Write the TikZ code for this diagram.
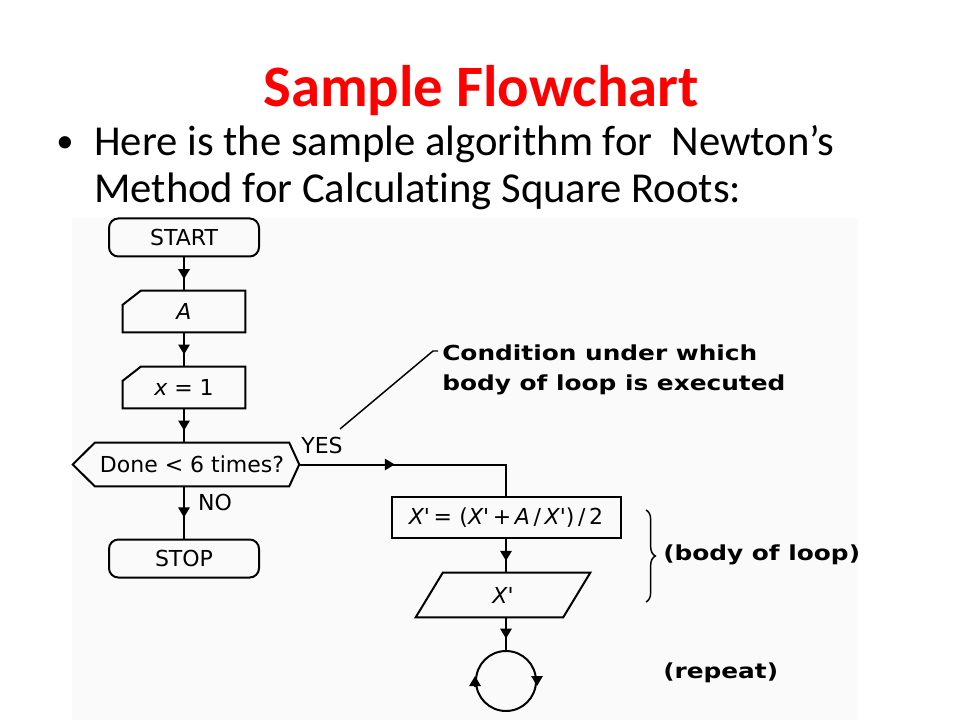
\documentclass[tikz,border=0pt]{standalone}
\usepackage{fontspec}
\setmainfont{Carlito}[Ligatures={NoCommon}]
\newfontfamily\pix{DejaVu Sans}
\newfontfamily\pixb[FakeStretch=1.2]{DejaVu Sans Bold}
\usetikzlibrary{arrows.meta,decorations.markings,decorations.pathreplacing}
\definecolor{titlered}{RGB}{255,0,0}
\newcommand\drawcard[1]{\draw[lw] ([yshift=-10.5pt]#1.north west) -- ([xshift=13.5pt]#1.north west) -- (#1.north east) -- (#1.south east) -- (#1.south west) -- cycle;}
\newcommand\drawpara[1]{\draw[lw] ([xshift=10.125pt]#1.north west) -- ([xshift=10.125pt]#1.north east) -- ([xshift=-10.125pt]#1.south east) -- ([xshift=-10.125pt]#1.south west) -- cycle;}
\begin{document}
\begin{tikzpicture}[x=0.75pt,y=-0.75pt,
  lw/.style={line width=1.5pt},
  thin line/.style={line width=1.1pt},
  pixfont/.style={font=\pix\fontsize{16.5}{19}\selectfont},
  boldfont/.style={font=\pixb\fontsize{15.5}{22.5}\selectfont},
  term/.style={draw, lw, rounded corners=7pt, minimum width=112.5pt, minimum height=28.5pt, inner sep=0pt, pixfont},
  card/.style={rectangle, minimum width=91.5pt, minimum height=30.75pt, inner sep=0pt, pixfont},
  procbox/.style={draw, lw, rectangle, minimum width=171.75pt, minimum height=30.75pt, inner sep=0pt, pixfont},
  paranode/.style={rectangle, minimum width=110.25pt, minimum height=33pt, inner sep=0pt, pixfont},
  hexnode/.style={rectangle, minimum width=145.5pt, minimum height=32.25pt, inner sep=0pt, pixfont},
  lbl/.style={inner sep=0pt, pixfont},
  note/.style={inner sep=0pt, boldfont, anchor=west, align=left},
  tipstyle/.style={-{Triangle[length=7.5pt,width=8.5pt]}},
  midarr/.style={postaction={decorate}, decoration={markings, mark=at position #1 with {\arrow[xshift=3.75pt]{Triangle[length=7.5pt,width=8.5pt]}}}},
  midarr/.default=0.5
]
\useasboundingbox (0,0) rectangle (960,720);
\fill[white] (0,0) rectangle (960,720);
\fill[black!2] (72,218) rectangle (858,720);

% slide text
\node[anchor=base, inner sep=0pt, text=titlered, font=\bfseries\fontsize{44}{53}\selectfont] (title) at (481,107) {Sample Flowchart};
\node[anchor=center, inner sep=0pt, font=\fontsize{26}{30}\selectfont] (bullet) at (65,145) {•};
\node[anchor=base west, align=left, inner sep=0pt, font=\fontsize{32}{35.25}\selectfont] (intro) at (94,203) {Here is the sample algorithm for~ Newton’s\\Method for Calculating Square Roots:};

% flowchart nodes
\node[term] (start) at (184,237.5) {START};
\node[card] (a) at (184,311.5) {\itshape A};
\drawcard{a}
\node[card] (x1) at (184,387.5) {{\itshape x} = 1};
\drawcard{x1}
\node[hexnode] (hex) at (192,464.5) {Done < 6 times?};
\coordinate (hexR) at ([xshift=7.5pt]hex.east);
\coordinate (hexL) at ([xshift=-16.5pt]hex.west);
\draw[lw] (hex.north west) -- (hex.north east) -- (hexR) -- (hex.south east) -- (hex.south west) -- (hexL) -- cycle;
\node[term] (stop) at (184,558.5) {STOP};

\node[procbox] (f) at (506,517.5) {{\itshape X}'\,=\,\,({\itshape X}'\,+\,{\itshape A}\,/\,{\itshape X}')\,/\,2};
\node[paranode] (para) at (503,595) {\itshape X'};
\drawpara{para}
\node[circle, draw, lw, minimum size=45pt, inner sep=0pt] (rep) at (506,681) {};

% connectors
\draw[lw, midarr] (start) -- (a);
\draw[lw, midarr] (a) -- (x1);
\draw[lw, midarr] (x1.south) -- (x1.south |- hex.north);
\draw[lw, midarr] (x1.south |- hex.south) -- (stop.north);
\draw[lw, midarr=0.38] (hexR) -| (f.north);
\draw[lw, midarr] (f.south) -- (f.south |- para.north);
\draw[lw, midarr] (f.south |- para.south) -- (rep.north);
\draw[lw, tipstyle] ([yshift=3.75pt]rep.east) -- ([yshift=-3.75pt]rep.east);
\draw[lw, tipstyle] ([yshift=-3.75pt]rep.west) -- ([yshift=3.75pt]rep.west);

% labels
\node[lbl] (yes) at (322,445) {YES};
\node[lbl] (no) at (215,502) {NO};

% annotations
\node[note] (cond) at (442,370) {Condition under which\\body of loop is executed};
\coordinate (cl) at (340,429);
\coordinate (ct) at (433,351);
\draw[thin line] (cl) -- (ct) -- ([xshift=-3pt]cond.west |- ct);

\coordinate (bt) at (646,510);
\coordinate (bb) at (646,602);
\draw[thin line, decorate, decoration={brace, amplitude=7pt}] (bt) -- (bb);
\node[note] (body) at (663,555) {(body of loop)};
\node[note] (repeat) at (663,673) {(repeat)};
\end{tikzpicture}
\end{document}
